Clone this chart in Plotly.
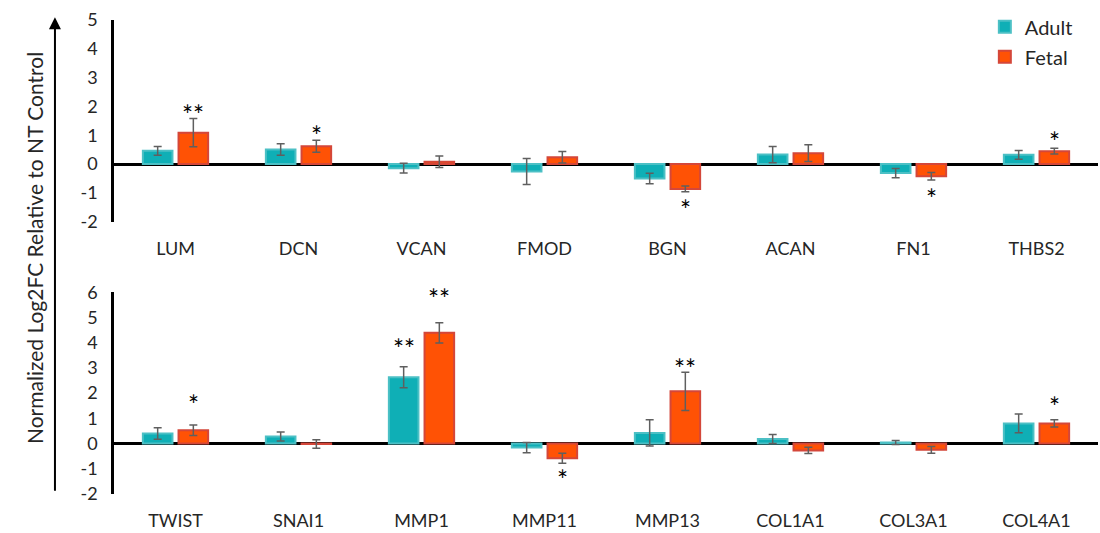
import plotly.graph_objects as go
from plotly.subplots import make_subplots

# ---------------- data ----------------
genes_top = ["LUM", "DCN", "VCAN", "FMOD", "BGN", "ACAN", "FN1", "THBS2"]
adult_top = [0.46, 0.51, -0.14, -0.26, -0.50, 0.33, -0.31, 0.32]
adult_top_err = [0.15, 0.20, 0.17, 0.45, 0.18, 0.28, 0.16, 0.15]
fetal_top = [1.09, 0.62, 0.08, 0.24, -0.86, 0.38, -0.42, 0.45]
fetal_top_err = [0.49, 0.21, 0.20, 0.20, 0.10, 0.29, 0.13, 0.10]

genes_bot = ["TWIST", "SNAI1", "MMP1", "MMP11", "MMP13", "COL1A1", "COL3A1", "COL4A1"]
adult_bot = [0.40, 0.28, 2.63, -0.16, 0.42, 0.18, 0.04, 0.80]
adult_bot_err = [0.23, 0.18, 0.42, 0.20, 0.52, 0.18, 0.08, 0.37]
fetal_bot = [0.53, -0.02, 4.39, -0.58, 2.07, -0.27, -0.25, 0.80]
fetal_bot_err = [0.21, 0.17, 0.40, 0.20, 0.76, 0.12, 0.13, 0.14]

# significance marks (label, y position of the mark)
sig_top_fetal = ["**", "*", "", "", "*", "", "*", "*"]
sig_top_fetal_y = [1.9, 1.17, None, None, -1.38, None, -1.0, 0.97]
sig_bot_adult = ["", "", "**", "", "", "", "", ""]
sig_bot_adult_y = [None, None, 3.99, None, None, None, None, None]
sig_bot_fetal = ["*", "", "**", "*", "**", "", "", "*"]
sig_bot_fetal_y = [1.78, None, 5.97, -1.22, 3.2, None, None, 1.7]

top_ticks = [-2, -1, 0, 1, 2, 3, 4, 5]
bot_ticks = [-2, -1, 0, 1, 2, 3, 4, 5, 6]

series_names = ["Adult", "Fetal"]
y_title = "Normalized Log2FC Relative to NT Control"

# ---------------- style ----------------
FONT = "Lato, Open Sans, sans-serif"
ADULT_FILL = "#0FAFB6"
ADULT_LINE = "#4CC0C5"
FETAL_FILL = "#FF5205"
FETAL_LINE = "#D4473A"
ERR_COLOR = "#5F5F5F"
TEXT = "#262626"

fig = make_subplots(rows=2, cols=1, vertical_spacing=0.1488)


def add_pair(row, genes, a, ae, f, fe, show):
    fig.add_trace(go.Bar(
        x=genes, y=a, name=series_names[0], legendgroup="a", showlegend=show,
        marker=dict(color=ADULT_FILL, line=dict(color=ADULT_LINE, width=2)),
        error_y=dict(type="data", array=ae, visible=True, color=ERR_COLOR,
                     thickness=1.5, width=4),
    ), row=row, col=1)
    fig.add_trace(go.Bar(
        x=genes, y=f, name=series_names[1], legendgroup="f", showlegend=show,
        marker=dict(color=FETAL_FILL, line=dict(color=FETAL_LINE, width=2)),
        error_y=dict(type="data", array=fe, visible=True, color=ERR_COLOR,
                     thickness=1.5, width=4),
    ), row=row, col=1)


add_pair(1, genes_top, adult_top, adult_top_err, fetal_top, fetal_top_err, True)
add_pair(2, genes_bot, adult_bot, adult_bot_err, fetal_bot, fetal_bot_err, False)

fig.update_layout(
    width=1100, height=533,
    margin=dict(l=114, r=2, t=20, b=36),
    paper_bgcolor="white", plot_bgcolor="white",
    barmode="group", bargap=0.42, bargroupgap=0.17,
    font=dict(family=FONT, size=17, color=TEXT),
    legend=dict(x=0.885, y=1.027, xanchor="left", yanchor="top",
                font=dict(size=20, color=TEXT), tracegroupgap=1,
                bgcolor="rgba(0,0,0,0)"),
)

for r, ticks in ((1, top_ticks), (2, bot_ticks)):
    fig.update_yaxes(
        row=r, col=1, range=[ticks[0], ticks[-1]],
        tickvals=ticks, ticktext=[str(t) for t in ticks],
        showgrid=False, showline=True, linecolor="black", linewidth=2.5,
        zeroline=True, zerolinecolor="black", zerolinewidth=2.5,
        ticks="", ticklabelstandoff=10,
        tickfont=dict(family=FONT, size=18, color=TEXT),
    )
    fig.update_xaxes(
        row=r, col=1, showgrid=False, showline=False, zeroline=False,
        ticks="", ticklabelstandoff=14,
        tickfont=dict(family=FONT, size=18, color=TEXT),
    )

# significance asterisks
OFF = 17.7
for row, genes, labels, ys, shift in (
    (1, genes_top, sig_top_fetal, sig_top_fetal_y, OFF),
    (2, genes_bot, sig_bot_adult, sig_bot_adult_y, -OFF),
    (2, genes_bot, sig_bot_fetal, sig_bot_fetal_y, OFF),
):
    xr = "x" if row == 1 else "x2"
    yr = "y" if row == 1 else "y2"
    for g, lab, yv in zip(genes, labels, ys):
        if not lab:
            continue
        fig.add_annotation(x=g, y=yv, xref=xr, yref=yr, text=lab,
                           showarrow=False, xshift=shift, yshift=-6,
                           font=dict(family=FONT, size=26, color="black"))

# y-axis title with arrow
fig.add_annotation(x=-0.0955, y=0.518, xref="paper", yref="paper",
                   text=y_title, textangle=-90, showarrow=False,
                   font=dict(family=FONT, size=21, color=TEXT))
fig.add_annotation(x=-0.06, y=1.006, xref="paper", yref="paper", text="",
                   showarrow=True, ax=0, ay=475, arrowhead=2, arrowsize=1.2,
                   arrowwidth=2, arrowcolor="black")

fig.write_html("out.html", config={"displayModeBar": False},
               post_script="document.body.style.margin='0px';document.body.style.overflow='hidden';")
